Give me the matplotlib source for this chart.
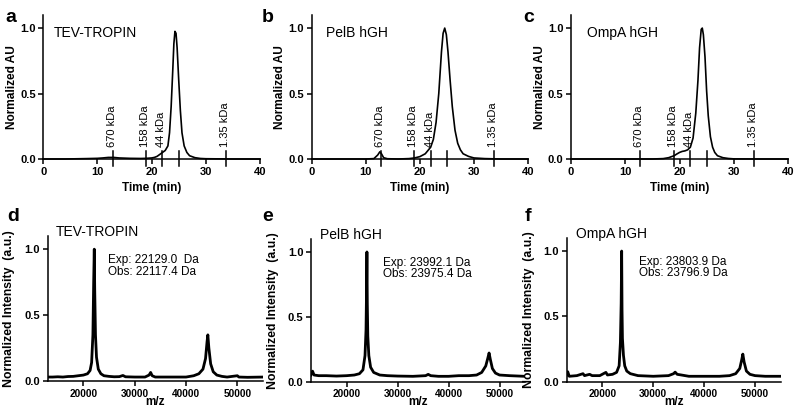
import matplotlib
matplotlib.use("Agg")
import matplotlib.pyplot as plt

plt.rcParams["font.family"] = ["Liberation Sans", "DejaVu Sans"]

W, H = 800, 419

# ---- SEC chromatograms (time in min, normalized AU) -------------------------
tev_t = [0, 4, 8, 10, 11, 12, 13, 14, 16, 18, 19, 20, 20.5, 21, 21.5, 22, 22.5,
         23, 23.3, 23.6, 23.9, 24.1, 24.3, 24.5, 24.7, 25.0, 25.3, 25.6, 26.0,
         26.5, 27, 28, 29, 30, 35, 40]
tev_v = [0, 0, 0.003, 0.005, 0.008, 0.012, 0.012, 0.008, 0.005, 0.004, 0.005,
         0.008, 0.012, 0.02, 0.035, 0.05, 0.065, 0.1, 0.2, 0.4, 0.68, 0.88,
         0.975, 0.96, 0.85, 0.6, 0.37, 0.2, 0.1, 0.05, 0.025, 0.01, 0.004,
         0.002, 0, 0]

pelb_t = [0, 5, 10, 11.5, 12.2, 12.6, 12.9, 13.3, 14, 16, 18, 19, 20, 21, 22,
          22.5, 23, 23.5, 24, 24.3, 24.6, 24.9, 25.2, 25.6, 26, 26.5, 27, 27.5,
          28, 29, 30, 32, 35, 40]
pelb_v = [0, 0, 0, 0.003, 0.03, 0.055, 0.04, 0.01, 0.002, 0, 0.003, 0.008,
          0.018, 0.04, 0.09, 0.15, 0.28, 0.5, 0.82, 0.96, 1.0, 0.95, 0.82, 0.6,
          0.4, 0.22, 0.12, 0.07, 0.04, 0.02, 0.008, 0.003, 0, 0]

ompa_t = [0, 10, 15, 17, 18, 19, 19.5, 20, 20.5, 21, 21.5, 22, 22.5, 23, 23.4,
          23.7, 24.0, 24.2, 24.4, 24.7, 25.0, 25.3, 25.7, 26.1, 26.5, 27, 28,
          29, 30, 35, 40]
ompa_v = [0, 0, 0, 0.003, 0.01, 0.025, 0.038, 0.05, 0.058, 0.062, 0.07, 0.09,
          0.16, 0.35, 0.6, 0.85, 0.99, 1.0, 0.95, 0.78, 0.52, 0.33, 0.17, 0.09,
          0.05, 0.025, 0.01, 0.004, 0.001, 0, 0]

# size standards
std_t = [12.8, 19, 22, 25.1, 33.8]
std_lbl = ["670 kDa", "158 kDa", "44 kDa", "", "1.35 kDa"]

# ---- MS spectra (m/z, normalized intensity) ---------------------------------
tev_mz = [13000, 14000, 15000, 16000, 17000, 18000, 19000, 20000, 20800, 21300,
          21600, 21850, 22000, 22117, 22200, 22350, 22550, 22900, 23400, 24000,
          25000, 26000, 27000, 27700, 28200, 30000, 32000, 32800, 33100, 33400,
          34000, 36000, 38000, 40000, 41500, 42500, 43300, 43800, 44100, 44250,
          44450, 44800, 45300, 46000, 47000, 48000, 50000, 50300, 52000, 55000]
tev_i = [0.03, 0.03, 0.032, 0.03, 0.034, 0.035, 0.04, 0.045, 0.055, 0.08,
         0.14, 0.35, 0.75, 1.0, 0.7, 0.35, 0.18, 0.09, 0.055, 0.04,
         0.035, 0.032, 0.033, 0.042, 0.032, 0.03, 0.03, 0.045, 0.065, 0.04,
         0.03, 0.03, 0.03, 0.03, 0.04, 0.055, 0.09, 0.17, 0.3, 0.35,
         0.25, 0.13, 0.07, 0.045, 0.035, 0.03, 0.04, 0.03, 0.028, 0.03]

pelb_mz = [13000, 13300, 13600, 14500, 16000, 18000, 20000, 21500, 22500, 23200,
           23600, 23800, 23900, 23975, 24050, 24150, 24350, 24700, 25300, 26500,
           28000, 30000, 33000, 35500, 36000, 36500, 38000, 40000, 42000, 44000,
           45500, 46500, 47300, 47700, 47950, 48200, 48600, 49200, 50000, 52000,
           55000]
pelb_i = [0.05, 0.08, 0.05, 0.045, 0.045, 0.042, 0.045, 0.05, 0.06, 0.09,
          0.2, 0.4, 0.7, 1.0, 0.6, 0.35, 0.2, 0.11, 0.07, 0.05,
          0.045, 0.042, 0.04, 0.045, 0.055, 0.045, 0.04, 0.04, 0.045, 0.045,
          0.05, 0.07, 0.12, 0.18, 0.22, 0.17, 0.1, 0.065, 0.05, 0.045,
          0.04]

ompa_mz = [13000, 13200, 13500, 15000, 16200, 16500, 17500, 18000, 19500, 20700,
           21000, 22000, 22800, 23300, 23550, 23700, 23797, 23870, 23950, 24150,
           24400, 24800, 25500, 27000, 30000, 33000, 34000, 34300, 34700, 35500,
           37000, 40000, 43000, 45000, 46200, 47000, 47400, 47600, 47850, 48300,
           49000, 50000, 52000, 55000]
ompa_i = [0.05, 0.075, 0.04, 0.045, 0.06, 0.045, 0.055, 0.045, 0.045, 0.07,
          0.05, 0.055, 0.07, 0.12, 0.3, 0.6, 1.0, 0.55, 0.33, 0.2,
          0.12, 0.08, 0.06, 0.045, 0.04, 0.045, 0.06, 0.072, 0.055, 0.05,
          0.04, 0.04, 0.04, 0.045, 0.06, 0.1, 0.17, 0.21, 0.15, 0.08,
          0.055, 0.045, 0.04, 0.04]

sec = [("a", "TEV-TROPIN", tev_t, tev_v), ("b", "PelB hGH", pelb_t, pelb_v),
       ("c", "OmpA hGH", ompa_t, ompa_v)]
ms = [("d", "TEV-TROPIN", tev_mz, tev_i, "Exp: 22129.0  Da", "Obs: 22117.4 Da"),
      ("e", "PelB hGH", pelb_mz, pelb_i, "Exp: 23992.1 Da", "Obs: 23975.4 Da"),
      ("f", "OmpA hGH", ompa_mz, ompa_i, "Exp: 23803.9 Da", "Obs: 23796.9 Da")]

# pixel boxes: left, right, y of zero, top
sec_box = [(43.3, 260, 159, 15), (311.7, 528, 159, 15), (571, 788, 159, 15)]
ms_box = [(47.5, 263, 381, 236), (311, 525, 381.5, 239), (566.7, 780.5, 381.5, 238)]
sec_letter = [(5, 17), (262, 17), (523, 17)]
ms_letter = [(7, 216), (262, 216), (525, 216)]
sec_title_x = [0.05, 0.065, 0.072]
ms_title_x = [0.04, 0.042, 0.043]
ms_note_x = [0.28, 0.335, 0.338]

fig = plt.figure(figsize=(W / 100, H / 100), dpi=100, facecolor="white")


def make_ax(box):
    l, r, y0, top = box
    ax = fig.add_axes([l / W, 1 - y0 / H, (r - l) / W, (y0 - top) / H])
    for s in ("top", "right"):
        ax.spines[s].set_visible(False)
    for s in ("left", "bottom"):
        ax.spines[s].set_linewidth(1.1)
    ax.tick_params(direction="out", length=3.5, width=1.1, labelsize=8, pad=2)
    ax.set_ylim(0, 1.1)
    ax.set_yticks([0, 0.5, 1.0])
    ax.set_yticklabels(["0.0", "0.5", "1.0"], fontweight="bold")
    return ax


for i, (letter, title, t, v) in enumerate(sec):
    ax = make_ax(sec_box[i])
    ax.plot(t, v, color="black", lw=1.2, clip_on=False)
    ax.set_xlim(0, 40)
    ax.set_xticks([0, 10, 20, 30, 40])
    ax.set_xticklabels(["0", "10", "20", "30", "40"], fontweight="bold")
    for x, s in zip(std_t, std_lbl):
        ax.plot([x, x], [-0.055, 0.058], color="black", lw=1.1, clip_on=False)
        if s:
            ax.text(x - 0.2, 0.09, s, rotation=90, ha="center", va="bottom",
                    fontsize=8)
    ax.text(sec_title_x[i], 0.875, title, transform=ax.transAxes,
            fontsize=10, va="center", ha="left")
    ax.set_xlabel("Time (min)", fontsize=8.5, fontweight="bold")
    ax.xaxis.set_label_coords(0.5, -0.16)
    ax.set_ylabel("Normalized AU", fontsize=8.6, fontweight="bold")
    ax.yaxis.set_label_coords(-0.117, 0.5)
    lx, ly = sec_letter[i]
    fig.text(lx / W, 1 - ly / H, letter, fontsize=14, fontweight="bold",
             va="center", ha="left")

for i, (letter, title, mz, inten, exp, obs) in enumerate(ms):
    ax = make_ax(ms_box[i])
    ax.plot(mz, inten, color="black", lw=2.0)
    ax.set_xlim(13000, 55000)
    ax.set_xticks([20000, 30000, 40000, 50000])
    ax.set_xticklabels(["20000", "30000", "40000", "50000"], fontweight="bold",
                       fontsize=7.3)
    ax.text(ms_title_x[i], 1.03, title, transform=ax.transAxes, fontsize=10,
            va="center", ha="left")
    ax.text(ms_note_x[i], 0.834, exp, transform=ax.transAxes, fontsize=8.5,
            va="center")
    ax.text(ms_note_x[i], 0.754, obs, transform=ax.transAxes, fontsize=8.5,
            va="center")
    ax.set_xlabel("m/z", fontsize=8.5, fontweight="bold")
    ax.xaxis.set_label_coords(0.5, -0.103)
    ax.set_ylabel("Normalized Intensity  (a.u.)", fontsize=8.8, fontweight="bold")
    ax.yaxis.set_label_coords(-0.15, 0.5)
    lx, ly = ms_letter[i]
    fig.text(lx / W, 1 - ly / H, letter, fontsize=14, fontweight="bold",
             va="center", ha="left")

fig.savefig("out.png", dpi=100, facecolor="white")
plt.close(fig)
